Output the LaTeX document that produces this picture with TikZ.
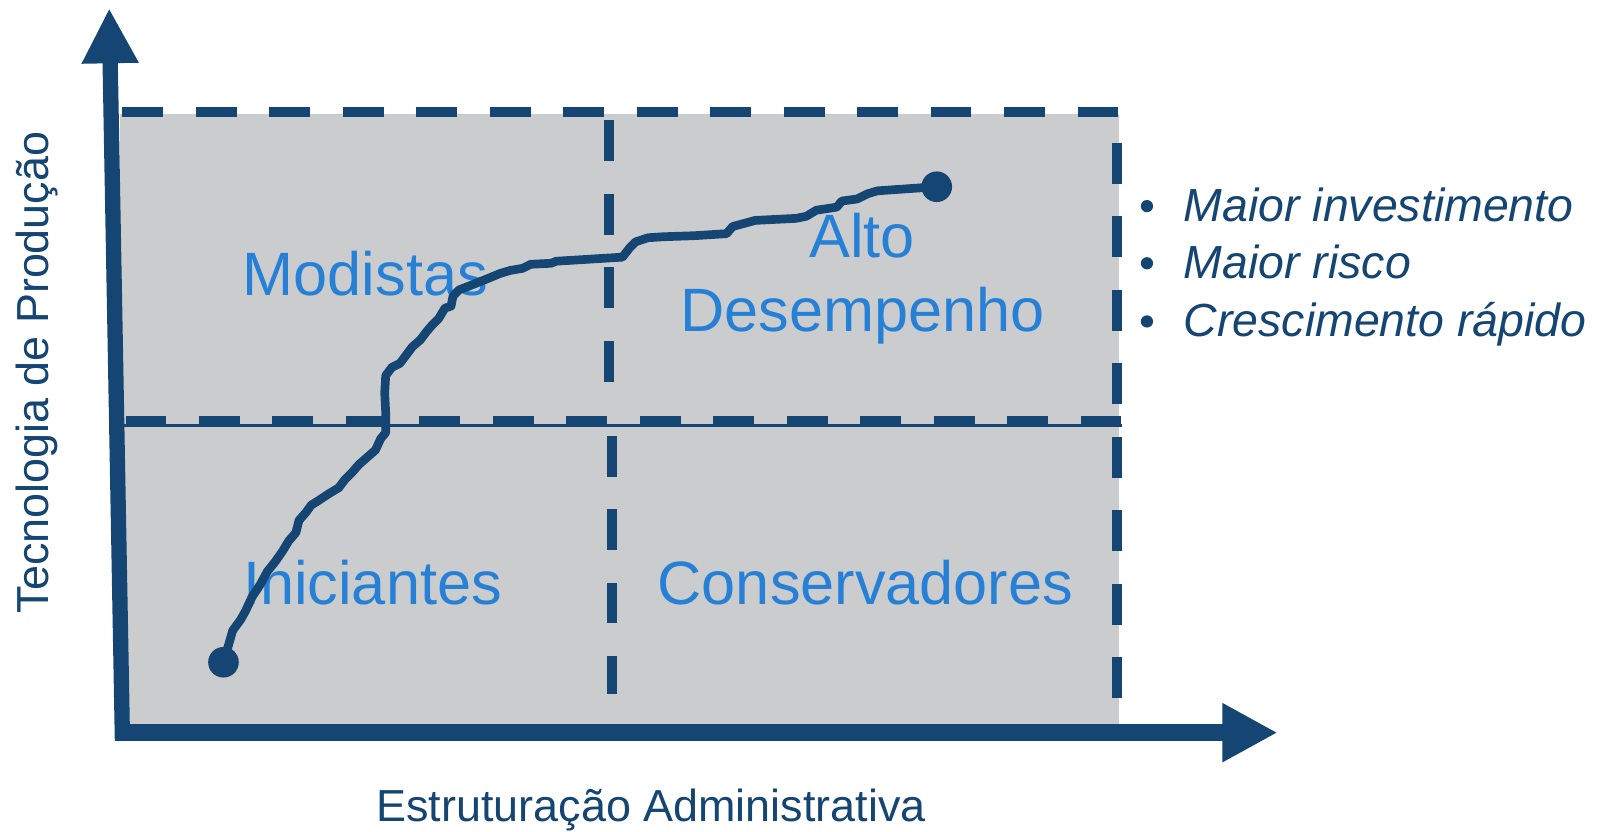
\documentclass[tikz,border=0pt]{standalone}
\usepackage{fontspec}
\setmainfont{Liberation Sans}
\usetikzlibrary{arrows.meta}
\definecolor{navy}{RGB}{20,69,115}
\definecolor{lblue}{RGB}{38,128,213}
\definecolor{panel}{RGB}{203,204,206}
\tikzset{
  axisline/.style={draw=navy, line width=16pt},
  grid dash/.style={draw=navy, line width=10pt, dash pattern=on 40pt off 32pt},
  quad/.style={text=lblue, font=\fontsize{60}{64}\selectfont, inner sep=0pt, align=center},
  bullet txt/.style={text=navy, font=\fontsize{45.5}{56}\selectfont\itshape, inner sep=0pt, anchor=base west},
  dot/.style={circle, fill=navy, minimum size=30pt, inner sep=0pt},
  curve/.style={draw=navy, line width=8.5pt, line join=round, line cap=round},
  axislabel/.style={text=navy, font=\fontsize{44}{50}\selectfont, inner sep=0pt}
}
\begin{document}
\begin{tikzpicture}[x=1pt,y=-1pt]
\useasboundingbox (0,0) rectangle (1568,815);
% panel
\fill[panel] (118,112) rectangle (1097,712);
% dashed grid
\draw[grid dash, dash phase=-2pt] (118,110) -- (1097,110);
\draw[grid dash, dash phase=-30pt] (1095,110) -- (1095,712);
\draw[navy, line width=2.5pt] (118,417) -- (1100,417);
\draw[grid dash, dash phase=-5pt] (118,413) -- (1100,413);
\draw[grid dash, dash phase=-3pt] (597,115) -- (597,405);
\draw[grid dash, dash phase=-2pt] (600,425) -- (600,680);
% axes
\coordinate (origin) at (113,718);
\coordinate (ytip) at (107,8);
\coordinate (xtip) at (1252,718);
\coordinate (ybase) at (120,726);
\draw[axisline, line width=15pt, -{Triangle[length=54pt,width=52pt]}] (ybase) -- (ytip);
\draw[axisline, line width=17pt, -{Triangle[length=54pt,width=54pt]}] (origin) -- (xtip);
% quadrant labels
\node[quad, anchor=base] (modistas) at (358,290) {Modistas};
\node[quad, anchor=base] (iniciantes) at (365,592) {Iniciantes};
\node[quad, anchor=base] (alto) at (845,252) {Alto};
\node[quad, anchor=base] (desemp) at (845,325) {Desempenho};
\node[quad, anchor=base] (conserv) at (848,592) {Conservadores};
% curve
\node[dot] (start) at (219,649) {};
\node[dot] (end) at (918,183) {};
\draw[curve] (start.center) -- (224,632) -- (228,618) -- (236,607) -- (241,598) -- (247,585) -- (255,573) -- (262,560) -- (270,550) -- (277,540) -- (283,530) -- (290,522) -- (293,510) -- (300,502) -- (305,495) -- (313,490) -- (322,484) -- (332,478) -- (338,470) -- (345,463) -- (352,455) -- (360,448) -- (368,441) -- (373,430) -- (378,424) -- (378,405) -- (377,385) -- (378,368) -- (384,360) -- (392,356) -- (398,348) -- (404,340) -- (412,333) -- (418,325) -- (424,318) -- (430,312) -- (436,302) -- (442,300) -- (444,290) -- (450,284) -- (463,279) -- (478,273) -- (490,268) -- (500,265) -- (512,263) -- (520,259) -- (540,258) -- (545,256) -- (610,252) -- (617,243) -- (623,237) -- (635,233) -- (650,232) -- (680,231) -- (712,229) -- (718,222) -- (740,216) -- (780,214) -- (790,212) -- (800,206) -- (820,203) -- (825,197) -- (840,195) -- (850,190) -- (860,187) -- (end.center);
% bullets
\node[bullet txt] (b1) at (1160,217) {Maior investimento};
\node[bullet txt] (b2) at (1160,273) {Maior risco};
\node[bullet txt] (b3) at (1160,330) {Crescimento rápido};
\fill[navy] (1124,202) circle (6pt);
\fill[navy] (1124,258) circle (6pt);
\fill[navy] (1124,315) circle (6pt);
% axis labels
\node[axislabel, anchor=base] (xlabel) at (638,805) {Estruturação Administrativa};
\node[axislabel, anchor=base, rotate=90] (ylabel) at (48,365) {Tecnologia de Produção};
\end{tikzpicture}
\end{document}
